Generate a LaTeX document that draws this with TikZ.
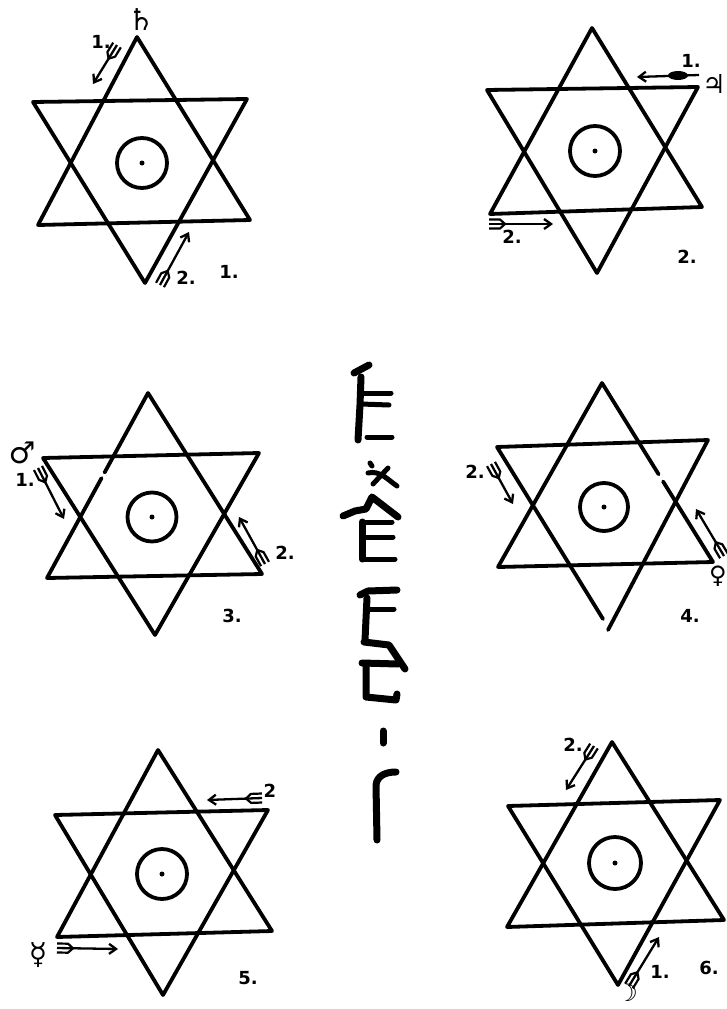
\documentclass[tikz,border=0pt]{standalone}
\usepackage{fontspec}
\setmainfont{DejaVu Sans}
\usetikzlibrary{calc,arrows.meta}
\tikzset{
 hexline/.style={line width=3.8pt,line join=round,line cap=round},
 ring/.style={circle,draw,line width=3.8pt,inner sep=0pt},
 centdot/.style={circle,fill,inner sep=0pt,minimum size=5pt},
 arrowline/.style={line width=2.3pt,-{Straight Barb[length=7pt,width=10pt,line width=2.3pt]}},
 fletch/.style={line width=2.2pt,line join=round},
 lab/.style={font=\bfseries\fontsize{18}{18}\selectfont,inner sep=0pt},
 sym/.style={font=\bfseries\fontsize{30}{30}\selectfont,inner sep=0pt},
 glyph/.style={line width=7pt,line cap=round,line join=round},
 glyphthin/.style={line width=5pt,line cap=round,line join=round},
}
\newcommand\fletcharrow[2]{%
  \draw[arrowline] (#1) -- (#2);
  \coordinate (fA) at ($(#1)!11pt!(#2)$);
  \coordinate (fB) at ($(#1)!16pt!(#2)$);
  \draw[fletch] ($(#1)!4.5pt!90:(#2)$) -- ($(fA)!4.5pt!90:(#2)$) -- (fB) -- ($(fA)!4.5pt!-90:(#2)$) -- ($(#1)!4.5pt!-90:(#2)$);
}
\begin{document}
\begin{tikzpicture}[x=1pt,y=-1pt]
\useasboundingbox (0,0) rectangle (727,1009);
\fill[white] (0,0) rectangle (727,1009);

% ---------- Hexagram 1 ----------
\coordinate (h1ua) at (137,37); \coordinate (h1ul) at (38,225); \coordinate (h1ur) at (250,220);
\coordinate (h1dl) at (33,102); \coordinate (h1dr) at (247,99); \coordinate (h1db) at (145,283);
\draw[hexline] (h1ua) -- (h1ur) -- (h1ul) -- cycle;
\draw[hexline] (h1dl) -- (h1dr) -- (h1db) -- cycle;
\node[ring,minimum size=50pt] (c1) at (142,163) {};
\node[centdot] (d1) at (c1.center) {};
\coordinate (a11t) at (117,45); \coordinate (a11h) at (93,84);
\fletcharrow{a11t}{a11h}
\coordinate (a12t) at (160,285); \coordinate (a12h) at (189,232);
\fletcharrow{a12t}{a12h}
\node[sym] (s1) at (141,20) {♄};
\node[lab] (l11) at (101,42) {1.};
\node[lab] (l12) at (186,278) {2.};
\node[lab] (n1) at (229,272) {1.};

% ---------- Hexagram 2 ----------
\coordinate (h2ua) at (592,28); \coordinate (h2ul) at (490,214); \coordinate (h2ur) at (702,207);
\coordinate (h2dl) at (487,90); \coordinate (h2dr) at (698,87); \coordinate (h2db) at (597,273);
\draw[hexline] (h2ua) -- (h2ur) -- (h2ul) -- cycle;
\draw[hexline] (h2dl) -- (h2dr) -- (h2db) -- cycle;
\node[ring,minimum size=50pt] (c2) at (595,151) {};
\node[centdot] (d2) at (c2.center) {};
\coordinate (a21t) at (699,75); \coordinate (a21h) at (637,77);
\draw[arrowline] (a21t) -- (a21h);
\fill (678,75.5) ellipse [x radius=10pt, y radius=4.5pt];
\coordinate (a22t) at (489,224); \coordinate (a22h) at (553,224);
\fletcharrow{a22t}{a22h}
\node[lab] (l21) at (691,61) {1.};
\node[sym,font=\bfseries\fontsize{26}{26}\selectfont] (s2) at (714,84) {♃};
\node[lab] (l22) at (512,237) {2.};
\node[lab] (n2) at (687,257) {2.};

% ---------- Hexagram 3 ----------
\coordinate (h3ua) at (148,393); \coordinate (h3ul) at (47,578); \coordinate (h3ur) at (262,574);
\coordinate (h3dl) at (43,458); \coordinate (h3dr) at (259,453); \coordinate (h3db) at (155,635);
\draw[hexline] ($(h3ua)!0.46!(h3ul)$) -- (h3ul) -- (h3ur) -- (h3ua) -- ($(h3ua)!0.43!(h3ul)$);
\draw[hexline] (h3dl) -- (h3dr) -- (h3db) -- cycle;
\node[ring,minimum size=49pt] (c3) at (152,517) {};
\node[centdot] (d3) at (c3.center) {};
\coordinate (a31t) at (38,468); \coordinate (a31h) at (64,519);
\fletcharrow{a31t}{a31h}
\coordinate (a32t) at (265,564); \coordinate (a32h) at (239,517);
\fletcharrow{a32t}{a32h}
\node[sym] (s3) at (22,453) {♂};
\node[lab] (l31) at (25,480) {1.};
\node[lab] (l32) at (285,553) {2.};
\node[lab] (n3) at (232,616) {3.};

% ---------- Hexagram 4 ----------
\coordinate (h4ua) at (602,383); \coordinate (h4ul) at (498,567); \coordinate (h4ur) at (713,562);
\coordinate (h4dl) at (497,447); \coordinate (h4dr) at (708,440);
\coordinate (h4b1) at (603,619); \coordinate (h4b2) at (608,630);
\draw[hexline] ($(h4ua)!0.55!(h4ur)$) -- (h4ur) -- (h4ul) -- (h4ua) -- ($(h4ua)!0.51!(h4ur)$);
\draw[hexline] (h4b1) -- (h4dl) -- (h4dr) -- (h4b2);
\node[ring,minimum size=48pt] (c4) at (604,507) {};
\node[centdot] (d4) at (c4.center) {};
\coordinate (a42t) at (491,464); \coordinate (a42h) at (513,504);
\fletcharrow{a42t}{a42h}
\coordinate (a41t) at (724,556); \coordinate (a41h) at (696,509);
\fletcharrow{a41t}{a41h}
\node[lab] (l42) at (475,472) {2.};
\node[sym,font=\bfseries\fontsize{24}{24}\selectfont] (s4) at (718,576) {♀};
\node[lab] (n4) at (690,616) {4.};

% ---------- Hexagram 5 ----------
\coordinate (h5ua) at (158,750); \coordinate (h5ul) at (57,937); \coordinate (h5ur) at (272,931);
\coordinate (h5dl) at (55,815); \coordinate (h5dr) at (268,810); \coordinate (h5db) at (163,995);
\draw[hexline] (h5ua) -- (h5ur) -- (h5ul) -- cycle;
\draw[hexline] (h5dl) -- (h5dr) -- (h5db) -- cycle;
\node[ring,minimum size=50pt] (c5) at (162,874) {};
\node[centdot] (d5) at (c5.center) {};
\coordinate (a52t) at (262,798); \coordinate (a52h) at (207,800);
\fletcharrow{a52t}{a52h}
\coordinate (a51t) at (57,948); \coordinate (a51h) at (118,949);
\fletcharrow{a51t}{a51h}
\node[lab] (l52) at (270,791) {2};
\node[sym] (s5) at (38,955) {☿};
\node[lab] (n5) at (248,978) {5.};

% ---------- Hexagram 6 ----------
\coordinate (h6ua) at (612,742); \coordinate (h6ul) at (507,927); \coordinate (h6ur) at (724,920);
\coordinate (h6dl) at (508,806); \coordinate (h6dr) at (720,800); \coordinate (h6db) at (618,985);
\draw[hexline] (h6ua) -- (h6ur) -- (h6ul) -- cycle;
\draw[hexline] (h6dl) -- (h6dr) -- (h6db) -- cycle;
\node[ring,minimum size=52pt] (c6) at (615,863) {};
\node[centdot] (d6) at (c6.center) {};
\coordinate (a62t) at (594,746); \coordinate (a62h) at (566,790);
\fletcharrow{a62t}{a62h}
\coordinate (a61t) at (629,986); \coordinate (a61h) at (659,937);
\fletcharrow{a61t}{a61h}
\node[lab] (l62) at (573,745) {2.};
\node[lab] (l61) at (660,972) {1.};
\node[sym,font=\bfseries\fontsize{24}{24}\selectfont] (s6) at (627,993) {☽};
\node[lab] (n6) at (709,968) {6.};

% ---------- Central glyph column ----------
% glyph A
\draw[glyph] (354,373) -- (369,365);
\draw[glyph] (361,377) -- (360,405) -- (358,440);
\draw[glyphthin] (361,393) -- (391,393);
\draw[glyphthin] (361,404) -- (389,405);
\draw[glyphthin] (367,437) -- (392,437);
% glyph B
\draw[glyphthin] (370,463) -- (372,466);
\draw[glyphthin] (368,473) .. controls (380,470) and (388,480) .. (397,486);
\draw[glyphthin] (388,468) -- (373,484);
\draw[glyph] (343,516) -- (355,511) -- (366,509) -- (372,497) -- (398,517);
\draw[glyph] (362,522) -- (362,559);
\draw[glyphthin] (362,522) -- (392,522);
\draw[glyphthin] (362,537) -- (393,537);
\draw[glyphthin] (362,559) -- (395,559);
% glyph C
\draw[glyph] (360,595) -- (368,591) -- (397,590);
\draw[glyph] (367,598) -- (365,640);
\draw[glyphthin] (367,609) -- (394,609);
\draw[glyph] (364,642) -- (389,645) -- (405,669);
\draw[glyph] (362,663) -- (398,664);
\draw[glyph] (366,665) -- (366,697) -- (396,700) -- (397,694);
% glyph D
\draw[glyph] (383,731) -- (383,743);
% glyph E
\draw[glyph] (377,840) -- (376,785) .. controls (377,776) and (385,772) .. (396,772);
\end{tikzpicture}
\end{document}
